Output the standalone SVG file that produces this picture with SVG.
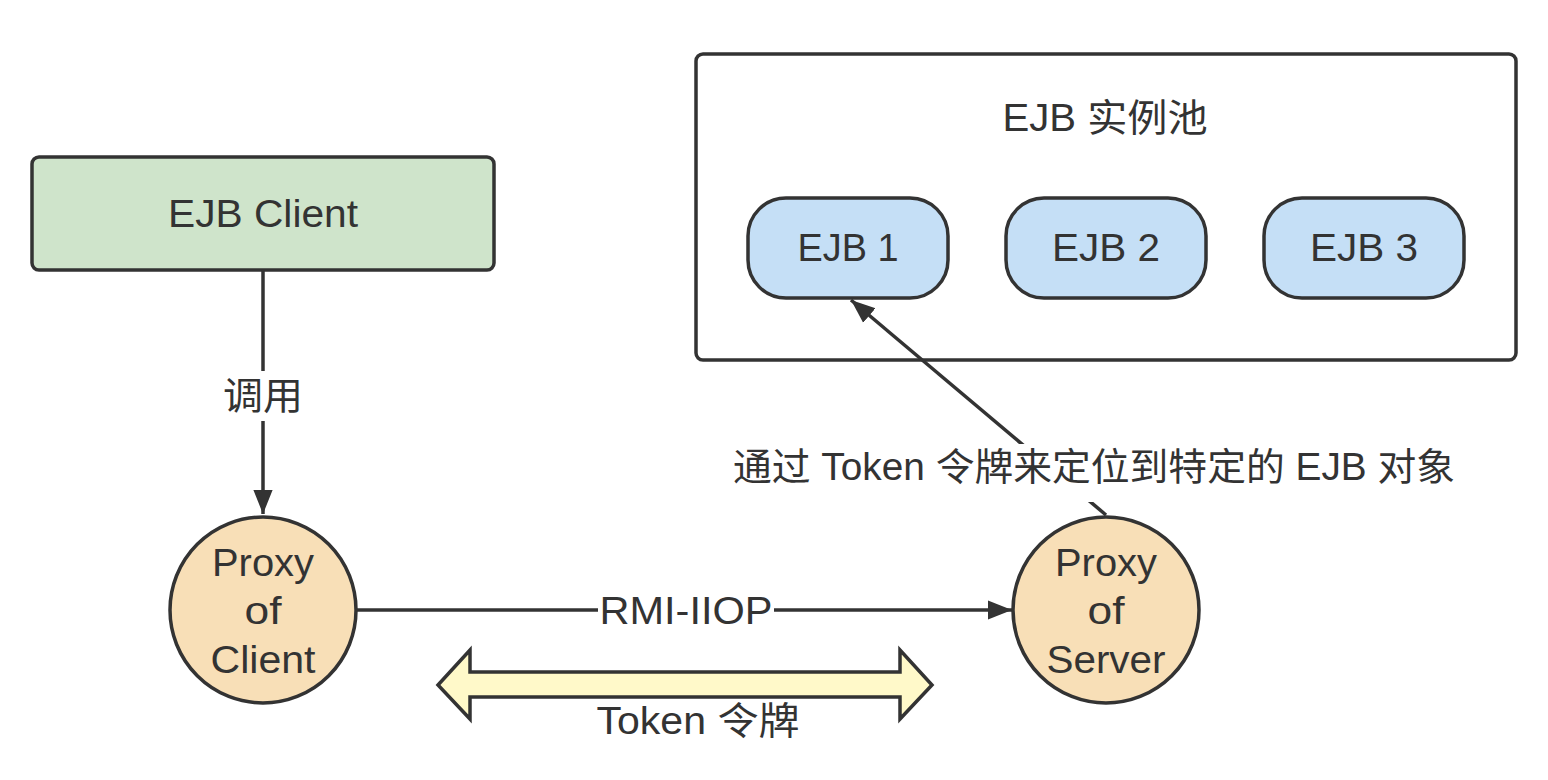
<svg xmlns="http://www.w3.org/2000/svg" width="1548" height="780" viewBox="0 0 1548 780">
<defs>
<style>
.t{font-family:"Liberation Sans","Noto Sans CJK SC",sans-serif;font-size:38px;fill:#333333;text-anchor:middle;dominant-baseline:central}
.s{stroke:#333333;stroke-width:3.5}
.ln{stroke:#333333;stroke-width:3.5;fill:none}
</style>
<marker id="arr" viewBox="0 0 20 20" refX="20" refY="10" markerWidth="24" markerHeight="24" markerUnits="userSpaceOnUse" orient="auto">
<path d="M0,2 L20,10 L0,18 Z" fill="#333333"/>
</marker>
</defs>
<rect width="1548" height="780" fill="#ffffff"/>
<g id="pool">
<rect class="s" x="696" y="54" width="820" height="306" rx="7" fill="#ffffff"/>
<text class="t" x="1105" y="118" textLength="205" lengthAdjust="spacingAndGlyphs">EJB 实例池</text>
</g>
<g id="ejb1">
<rect class="s" x="748" y="198" width="200" height="100" rx="38" fill="#c5dff6"/>
<text class="t" x="848" y="248" textLength="101" lengthAdjust="spacingAndGlyphs">EJB 1</text>
</g>
<g id="ejb2">
<rect class="s" x="1006" y="198" width="200" height="100" rx="38" fill="#c5dff6"/>
<text class="t" x="1106" y="248" textLength="108" lengthAdjust="spacingAndGlyphs">EJB 2</text>
</g>
<g id="ejb3">
<rect class="s" x="1264" y="198" width="200" height="100" rx="38" fill="#c5dff6"/>
<text class="t" x="1364" y="248" textLength="108" lengthAdjust="spacingAndGlyphs">EJB 3</text>
</g>
<g id="client">
<rect class="s" x="32" y="157" width="462" height="113" rx="7" fill="#cfe4cb"/>
<text class="t" x="263" y="214" textLength="190" lengthAdjust="spacingAndGlyphs">EJB Client</text>
</g>
<g id="proxyClient">
<circle class="s" cx="263" cy="610" r="93" fill="#f8dfb7"/>
<text class="t" x="263" y="563" textLength="102" lengthAdjust="spacingAndGlyphs">Proxy</text>
<text class="t" x="263" y="611" textLength="37" lengthAdjust="spacingAndGlyphs">of</text>
<text class="t" x="263" y="660" textLength="105" lengthAdjust="spacingAndGlyphs">Client</text>
</g>
<g id="proxyServer">
<circle class="s" cx="1106" cy="610" r="93" fill="#f8dfb7"/>
<text class="t" x="1106" y="563" textLength="102" lengthAdjust="spacingAndGlyphs">Proxy</text>
<text class="t" x="1106" y="611" textLength="37" lengthAdjust="spacingAndGlyphs">of</text>
<text class="t" x="1106" y="660" textLength="119" lengthAdjust="spacingAndGlyphs">Server</text>
</g>
<g id="connectors">
<line class="ln" x1="263" y1="270" x2="263" y2="514" marker-end="url(#arr)"/>
<rect x="215" y="371" width="96" height="50" fill="#ffffff"/>
<text class="t" x="263" y="396" textLength="80" lengthAdjust="spacingAndGlyphs">调用</text>
<line class="ln" x1="357" y1="610" x2="1012" y2="610" marker-end="url(#arr)"/>
<rect x="598" y="592" width="176" height="38" fill="#ffffff"/>
<text class="t" x="686" y="611" textLength="173" lengthAdjust="spacingAndGlyphs">RMI-IIOP</text>
<line class="ln" x1="1106" y1="515" x2="851" y2="300" marker-end="url(#arr)"/>
<rect x="728" y="444" width="732" height="58" fill="#ffffff"/>
<text class="t" x="1094" y="467" textLength="722" lengthAdjust="spacingAndGlyphs">通过 Token 令牌来定位到特定的 EJB 对象</text>
</g>
<g id="token">
<path class="s" d="M438,685 L470,650 L470,672 L900,672 L900,650 L932,685 L900,719 L900,697 L470,697 L470,719 Z" fill="#fff9c9" stroke-linejoin="miter"/>
<text class="t" x="698" y="721" textLength="203" lengthAdjust="spacingAndGlyphs">Token 令牌</text>
</g>
</svg>
